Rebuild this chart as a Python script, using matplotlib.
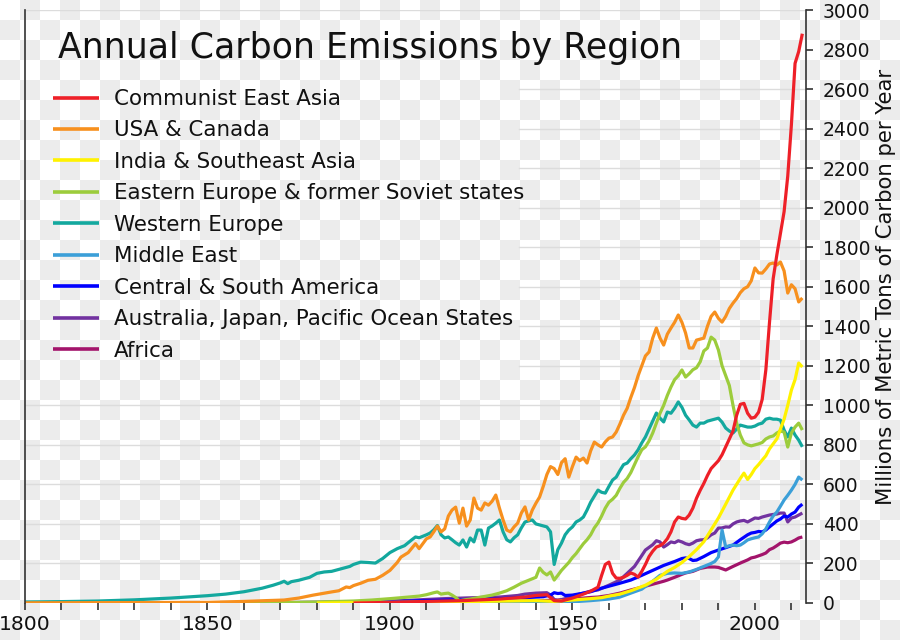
import numpy as np
import matplotlib
matplotlib.use("Agg")
import matplotlib.pyplot as plt

# ---------------- data (millions of metric tons of carbon per year) ----------------
red_years = [1890,1900,1910,1920,1930,1937,1940,1943,1945,1947,1950,1953,1955,1957,1958,1959,1960,1961,1962,1963,1964,1965,1966,1967,1968,1969,1970,1971,1972,1973,1974,1975,1976,1977,1978,1979,1980,1981,1982,1983,1984,1985,1986,1987,1988,1989,1990,1991,1992,1993,1994,1995,1996,1997,1998,1999,2000,2001,2002,2003,2004,2005,2006,2007,2008,2009,2010,2011,2012,2013]
red_vals = [0,3,8,12,20,30,38,42,12,10,25,45,60,80,140,195,207,150,126,125,130,140,152,145,131,160,195,235,262,283,290,303,325,360,410,435,428,425,445,480,530,570,605,645,680,700,720,750,790,830,870,950,1005,1010,960,935,940,965,1030,1180,1420,1640,1760,1870,1980,2160,2420,2730,2790,2880]

usa_years = [1800,1850,1860,1866,1871,1875,1879,1884,1886,1888,1889,1890,1892,1894,1896,1898,1900,1902,1903,1905,1907,1908,1910,1911,1912,1913,1914,1915,1916,1917,1918,1919,1920,1921,1922,1923,1924,1925,1926,1927,1928,1929,1930,1931,1932,1933,1934,1935,1936,1937,1938,1939,1940,1941,1942,1943,1944,1945,1946,1947,1948,1949,1950,1951,1952,1953,1954,1955,1956,1957,1958,1959,1960,1961,1962,1963,1964,1965,1966,1967,1968,1969,1970,1971,1972,1973,1974,1975,1976,1977,1978,1979,1980,1981,1982,1983,1984,1985,1986,1987,1988,1989,1990,1991,1992,1993,1994,1995,1996,1997,1998,1999,2000,2001,2002,2003,2004,2005,2006,2007,2008,2009,2010,2011,2012,2013]
usa_vals = [1,3,8,12,15,25,40,56,62,81,78,88,100,115,120,140,165,205,232,255,300,275,325,334,360,389,360,375,440,470,485,404,480,389,420,531,480,470,506,495,515,546,480,420,369,360,385,404,455,486,420,470,505,536,590,650,690,680,650,710,730,637,690,738,720,733,708,770,814,800,789,815,834,840,865,905,950,985,1040,1090,1150,1200,1250,1270,1340,1391,1340,1305,1360,1391,1420,1457,1420,1366,1290,1290,1330,1335,1340,1400,1450,1472,1440,1421,1450,1490,1517,1540,1570,1590,1600,1630,1695,1670,1669,1690,1715,1720,1710,1725,1680,1568,1610,1590,1523,1543]

india_years = [1880,1900,1920,1940,1945,1950,1955,1958,1960,1963,1966,1970,1973,1976,1978,1980,1982,1984,1986,1988,1990,1992,1994,1996,1997,1998,1999,2000,2001,2002,2003,2004,2005,2006,2007,2008,2009,2010,2011,2012,2013]
india_vals = [0,3,7,12,8,15,22,27,35,45,62,90,120,160,180,205,235,270,310,370,430,500,571,630,657,625,650,680,700,723,745,780,805,830,880,930,1000,1077,1130,1214,1194]

eeur_years = [1860,1870,1880,1890,1895,1900,1905,1908,1910,1912,1913,1914,1915,1916,1917,1918,1919,1920,1922,1925,1928,1930,1932,1934,1936,1938,1940,1941,1942,1943,1944,1945,1946,1947,1948,1949,1950,1951,1952,1953,1954,1955,1956,1957,1958,1959,1960,1961,1962,1963,1964,1965,1966,1967,1968,1969,1970,1971,1972,1973,1974,1975,1976,1977,1978,1979,1980,1981,1982,1983,1984,1985,1986,1987,1988,1989,1990,1991,1992,1993,1994,1995,1996,1997,1998,1999,2000,2001,2002,2003,2004,2005,2006,2007,2008,2009,2010,2011,2012,2013]
eeur_vals = [0,2,5,10,15,22,30,35,42,52,56,45,48,50,40,28,12,15,20,30,40,50,62,80,100,115,130,177,155,142,157,116,140,165,185,205,230,250,275,300,320,345,380,405,440,480,510,525,545,580,610,630,660,700,740,775,790,820,860,910,960,1000,1050,1093,1130,1150,1179,1143,1160,1180,1190,1220,1275,1290,1345,1330,1280,1200,1150,1100,1000,910,850,810,800,795,800,805,812,830,840,845,860,870,865,789,860,890,910,875]

weur_years = [1800,1810,1820,1830,1840,1850,1855,1860,1865,1868,1870,1871,1872,1873,1875,1878,1880,1882,1884,1886,1889,1890,1892,1894,1896,1898,1900,1902,1904,1906,1907,1908,1910,1911,1912,1913,1914,1915,1916,1917,1918,1919,1920,1921,1922,1923,1924,1925,1926,1927,1928,1929,1930,1931,1932,1933,1934,1935,1936,1937,1938,1939,1940,1941,1942,1943,1944,1945,1946,1947,1948,1949,1950,1951,1952,1953,1954,1955,1956,1957,1958,1959,1960,1961,1962,1963,1964,1965,1966,1967,1968,1969,1970,1971,1972,1973,1974,1975,1976,1977,1978,1979,1980,1981,1982,1983,1984,1985,1986,1987,1988,1989,1990,1991,1992,1993,1994,1995,1996,1997,1998,1999,2000,2001,2002,2003,2004,2005,2006,2007,2008,2009,2010,2011,2012,2013]
weur_vals = [5,7,10,16,25,37,45,57,75,90,102,110,98,108,115,130,150,157,160,170,185,195,207,205,202,225,255,275,290,320,334,330,345,354,370,392,345,329,334,320,305,293,319,283,329,309,369,369,293,379,390,404,420,360,320,309,330,345,380,410,415,420,400,395,390,385,360,195,270,303,345,369,385,410,420,435,470,510,540,571,560,556,590,622,637,670,700,708,730,749,775,810,840,880,920,961,935,916,966,960,985,1017,990,950,926,900,890,910,910,920,925,930,935,915,885,870,860,880,900,895,890,890,895,905,910,930,935,930,930,925,875,840,885,850,824,790]

mideast_years = [1910,1930,1940,1950,1955,1960,1963,1966,1969,1972,1974,1976,1978,1980,1982,1984,1986,1988,1989,1990,1991,1992,1993,1994,1995,1996,1997,1998,1999,2000,2001,2002,2003,2004,2005,2006,2007,2008,2009,2010,2011,2012,2013]
mideast_vals = [0,2,4,6,12,20,30,50,70,110,140,150,152,150,157,170,185,200,210,233,369,283,290,293,290,293,305,319,325,330,334,350,375,410,440,460,490,521,545,571,600,637,622]

csam_years = [1870,1880,1890,1900,1910,1920,1930,1938,1942,1944,1945,1946,1947,1948,1950,1953,1955,1957,1960,1963,1966,1969,1972,1975,1978,1980,1981,1982,1983,1984,1986,1988,1990,1992,1994,1996,1998,1999,2000,2001,2002,2003,2004,2005,2006,2007,2008,2009,2010,2011,2012,2013]
csam_vals = [0,2,4,7,12,17,22,28,32,40,52,48,50,38,40,50,57,70,85,100,116,140,165,190,210,225,228,225,215,217,235,255,268,280,293,320,345,354,357,362,360,369,385,400,415,425,440,435,450,460,485,500]

pac_years = [1850,1870,1880,1890,1900,1905,1910,1915,1920,1925,1930,1935,1937,1940,1943,1944,1945,1946,1948,1950,1953,1955,1957,1960,1963,1965,1967,1969,1970,1972,1973,1974,1975,1976,1977,1978,1979,1980,1981,1982,1983,1984,1985,1986,1987,1988,1989,1990,1991,1992,1993,1994,1995,1996,1997,1998,1999,2000,2001,2002,2003,2004,2005,2006,2007,2008,2009,2010,2011,2012,2013]
pac_vals = [1,2,4,6,10,13,18,22,25,28,30,38,45,50,52,40,18,12,22,35,50,60,66,90,116,150,185,240,268,295,315,309,283,295,309,305,315,309,300,295,303,315,319,320,330,345,354,379,380,385,384,400,410,415,418,410,420,430,428,435,440,445,448,450,455,455,410,430,435,445,455]

africa_years = [1880,1900,1920,1930,1940,1945,1950,1955,1957,1960,1963,1966,1969,1972,1975,1976,1978,1980,1981,1983,1985,1987,1989,1990,1992,1994,1996,1998,1999,2000,2002,2003,2004,2005,2006,2007,2008,2009,2010,2011,2012,2013]
africa_vals = [0,3,7,9,12,14,20,28,30,38,50,66,80,95,110,116,130,145,152,160,175,182,182,180,167,185,202,218,228,232,245,253,270,278,290,303,308,305,309,318,329,334]

regions = ["Communist East Asia", "USA & Canada", "India & Southeast Asia",
           "Eastern Europe & former Soviet states", "Western Europe", "Middle East",
           "Central & South America", "Australia, Japan, Pacific Ocean States", "Africa"]
colors = ["#ee2028", "#f7901e", "#fff200", "#9ccc3c", "#13a89e", "#3b9fd8",
          "#0000ff", "#7232a0", "#a3146b"]
series = [(red_years, red_vals), (usa_years, usa_vals), (india_years, india_vals),
          (eeur_years, eeur_vals), (weur_years, weur_vals), (mideast_years, mideast_vals),
          (csam_years, csam_vals), (pac_years, pac_vals), (africa_years, africa_vals)]

y_ticks = list(range(0, 3001, 200))
x_major = [1800, 1850, 1900, 1950, 2000]
x_minor = list(range(1800, 2011, 10))

# ---------------- figure ----------------
W, H = 900, 640
fig = plt.figure(figsize=(W / 100, H / 100), dpi=100)

# checkerboard (transparency) background
bg = fig.add_axes([0, 0, 1, 1], zorder=-10)
sq = 20
ii, jj = np.meshgrid(np.arange(W // sq + 1), np.arange(H // sq + 1))
checker = ((ii + jj) % 2).astype(float)
bg.imshow(checker, cmap=matplotlib.colors.ListedColormap(["#ffffff", "#ececec"]),
          extent=[0, (W // sq + 1) * sq, (H // sq + 1) * sq, 0], interpolation="nearest",
          aspect="auto")
bg.set_xlim(0, W)
bg.set_ylim(H, 0)
bg.axis("off")

L, R, T, B = 25, 806, 10, 603
ax = fig.add_axes([L / W, 1 - B / H, (R - L) / W, (B - T) / H])
ax.set_facecolor("none")
ax.set_xlim(1800, 2014)
ax.set_ylim(0, 3000)

# horizontal grid (partially hidden behind title / legend area like the original)
legend_right = (519 - L) / (R - L)
for v in y_ticks[1:]:
    if v == 2800:
        continue
    if 1200 <= v <= 2600:
        ax.axhline(v, xmin=legend_right, xmax=1, color="#dcdcdc", lw=1.0, zorder=0)
    else:
        ax.axhline(v, color="#dcdcdc", lw=1.0, zorder=0)

lines = []
for (xs, ys), name, c in zip(series, regions, colors):
    ln, = ax.plot(xs, ys, color=c, lw=2.3, label=name, solid_joinstyle="round",
                  solid_capstyle="butt")
    lines.append(ln)
for k, ln in enumerate(lines):
    ln.set_zorder(2 + (len(lines) - k) * 0.01)
lines[0].set_zorder(3)

for s in ["top", "bottom"]:
    ax.spines[s].set_visible(False)
for s in ["left", "right"]:
    ax.spines[s].set_color("#333333")
    ax.spines[s].set_linewidth(1.2)

ax.yaxis.tick_right()
ax.set_yticks(y_ticks)
ax.tick_params(axis="y", which="both", direction="out", length=5, width=1.2,
               color="#333333", pad=7, labelsize=13.5, labelcolor="#111111")
ax.set_xticks(x_major)
ax.set_xticks(x_minor, minor=True)
ax.tick_params(axis="x", which="both", direction="out", length=5, width=1.2,
               color="#333333", pad=4, labelsize=14.7, labelcolor="#111111")

fig.text(58 / W, 1 - 58 / H, "Annual Carbon Emissions by Region", fontsize=25,
         ha="left", va="baseline", color="#111111")

fig.text(886 / W, 1 - 287 / H, "Millions of Metric Tons of Carbon per Year",
         rotation=90, fontsize=15.3, ha="center", va="center", color="#111111")

leg = ax.legend(handles=lines, loc="upper left", bbox_to_anchor=(53 / W, 1 - 89 / H),
                bbox_transform=fig.transFigure, frameon=False, fontsize=15.4,
                handlelength=2.15, handletextpad=0.7, labelspacing=0.535,
                borderpad=0, borderaxespad=0)
for t in leg.get_texts():
    t.set_color("#111111")
for h in leg.legend_handles:
    h.set_linewidth(2.6)

fig.savefig("out.png", dpi=100)
